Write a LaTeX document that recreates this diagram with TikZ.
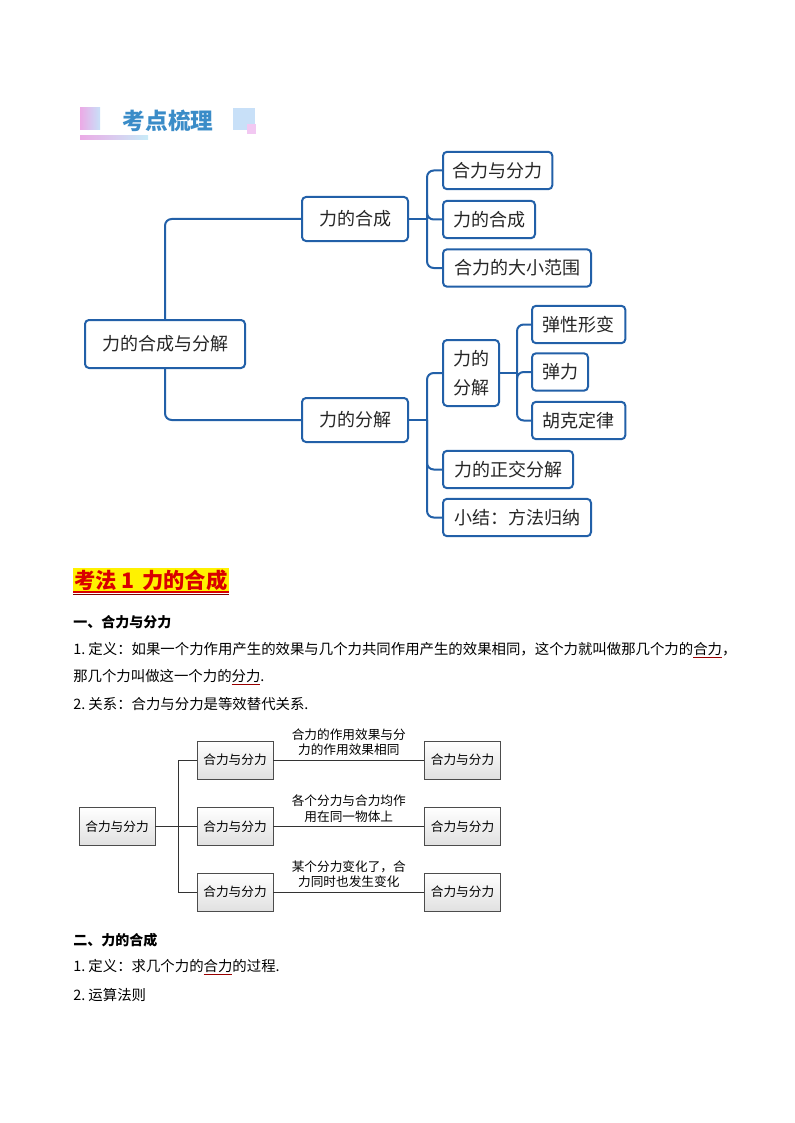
\documentclass[tikz,border=0pt]{standalone}
\usepackage{fontspec}
\setmainfont{Noto Sans CJK SC}
\usepackage{xcolor}
\usetikzlibrary{positioning,calc}
\definecolor{mapblue}{RGB}{34,96,168}
\definecolor{headblue}{RGB}{58,140,200}
\definecolor{pinkA}{RGB}{236,170,230}
\definecolor{blueA}{RGB}{200,224,248}
\definecolor{cyanA}{RGB}{200,236,248}
\definecolor{pinkB}{RGB}{242,200,242}
\newcommand{\redline}[1]{{\color{red!60!black}\underline{\color{black}#1}}}

\tikzset{
  mapbox/.style = {draw=mapblue, line width=1.5pt, rounded corners=3pt, fill=white,
    font=\fontsize{13.5}{17}\selectfont, text=black!85, minimum height=28pt,
    inner sep=2pt, align=center},
  mapline/.style = {draw=mapblue, line width=1.5pt, rounded corners=5pt},
  graybox/.style = {draw=black!70, line width=0.6pt, top color=white, bottom color=black!12,
    minimum width=57pt, minimum height=28.5pt, font=\fontsize{9.5}{11}\selectfont},
  grayline/.style = {draw=black!80, line width=0.6pt},
  graylabel/.style = {above=2pt, align=center, inner sep=1pt, font=\fontsize{9.5}{11.5}\selectfont},
  body/.style = {anchor=west, inner sep=0pt, font=\fontsize{10.8}{13}\selectfont},
  bodyhead/.style = {anchor=west, inner sep=0pt, font=\bfseries\fontsize{10.5}{13}\selectfont}
}

\begin{document}
\begin{tikzpicture}[x=0.75pt, y=-0.75pt]
    \useasboundingbox (0,0) rectangle (794,1123);

    % title bar
    \fill[left color=pinkA, right color=blueA] (80,108) rectangle (100,130);
    \fill[blueA] (233,108) rectangle (255,130);
    \fill[pinkB] (247,124) rectangle (256,134);
    \fill[left color=pinkA, right color=cyanA] (80,136) rectangle (148,140);
    \node[font=\bfseries\fontsize{17}{20}\selectfont, text=headblue] (kd) at (168,121) {考点梳理};

    % mind map
    \node[mapbox, minimum width=120pt, minimum height=36pt] (root) at (165,344) {力的合成与分解};
    \node[mapbox, minimum width=79.5pt, minimum height=33pt] (hc) at (355,219) {力的合成};
    \node[mapbox, minimum width=79.5pt, minimum height=33pt] (hf) at (355,420) {力的分解};
    \node[mapbox, anchor=west, minimum width=82pt] (hc1) at (442,170.5) {合力与分力};
    \node[mapbox, anchor=west, minimum width=69pt] (hc2) at (442,219.5) {力的合成};
    \node[mapbox, anchor=west, minimum width=111pt] (hc3) at (442,268) {合力的大小范围};
    \node[mapbox, anchor=west, minimum width=42pt, minimum height=49.5pt,
      font=\fontsize{13.5}{22}\selectfont] (hf1) at (442,373) {力的\\分解};
    \node[mapbox, anchor=west, minimum width=97.5pt] (hf2) at (442,469.5) {力的正交分解};
    \node[mapbox, anchor=west, minimum width=111pt] (hf3) at (442,517.5) {小结：方法归纳};
    \node[mapbox, anchor=west, minimum width=70pt] (tx1) at (531,324.5) {弹性形变};
    \node[mapbox, anchor=west, minimum width=42pt] (tx2) at (531,372) {弹力};
    \node[mapbox, anchor=west, minimum width=70pt] (tx3) at (531,420.5) {胡克定律};

    \draw[mapline] (root.north) |- (hc.west);
    \draw[mapline] (root.south) |- (hf.west);
    \coordinate (hcj) at ($(hc.east)+(18,0)$);
    \coordinate (hfj) at ($(hf.east)+(18,0)$);
    \coordinate (txj) at ($(hf1.east)+(17,0)$);
    \draw[mapline] (hc.east) -- (hcj);
    \draw[mapline] (hf.east) -- (hfj);
    \draw[mapline] (hf1.east) -- (txj);
    \foreach \n in {hc1,hc2,hc3}
        \draw[mapline] (hcj) |- (\n.west);
    \foreach \n in {hf1,hf2,hf3}
        \draw[mapline] (hfj) |- (\n.west);
    \foreach \n in {tx1,tx2,tx3}
        \draw[mapline] (txj) |- (\n.west);

    % heading
    \node[anchor=west, fill=yellow, text=red!85!black, inner sep=1pt,
      font=\bfseries\fontsize{16}{19}\selectfont] (kf) at (73,580) {考法\hspace{3pt}1\hspace{6pt}力的合成};
    \draw[red!85!black, line width=1pt] (kf.south west) -- (kf.south east);
    \draw[red!50!black, line width=0.6pt] ([yshift=-2pt]kf.south west) -- ([yshift=-2pt]kf.south east);

    % text
    \node[bodyhead] (s1) at (73,622) {一、合力与分力};
    \node[body] (l1) at (73,650) {1.\ 定义：如果一个力作用产生的效果与几个力共同作用产生的效果相同，这个力就叫做那几个力的\redline{合力}，};
    \node[body] (l2) at (73,677) {那几个力叫做这一个力的\redline{分力}.};
    \node[body] (l3) at (73,704) {2.\ 关系：合力与分力是等效替代关系.};

    % small chart
    \node[graybox] (f0) at (117,826.5) {合力与分力};
    \node[graybox] (f1) at (235,760) {合力与分力};
    \node[graybox] (f2) at (235,826.5) {合力与分力};
    \node[graybox] (f3) at (235,892) {合力与分力};
    \node[graybox] (g1) at (462.5,760) {合力与分力};
    \node[graybox] (g2) at (462.5,826.5) {合力与分力};
    \node[graybox] (g3) at (462.5,892) {合力与分力};
    \coordinate (fj) at (178,826.5);
    \draw[grayline] (f0.east) -- (fj);
    \foreach \n in {f1,f2,f3}
        \draw[grayline] (fj) |- (\n.west);
    \draw[grayline] (f1) -- (g1) node[midway, graylabel] {合力的作用效果与分\\力的作用效果相同};
    \draw[grayline] (f2) -- (g2) node[midway, graylabel] {各个分力与合力均作\\用在同一物体上};
    \draw[grayline] (f3) -- (g3) node[midway, graylabel] {某个分力变化了，合\\力同时也发生变化};

    \node[bodyhead] (s2) at (73,940) {二、力的合成};
    \node[body] (m1) at (73,967) {1.\ 定义：求几个力的\redline{合力}的过程.};
    \node[body] (m2) at (73,995) {2.\ 运算法则};
\end{tikzpicture}
\end{document}
